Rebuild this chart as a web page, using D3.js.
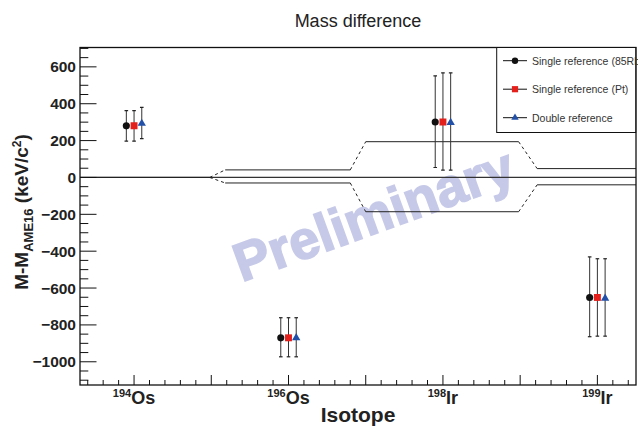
<!DOCTYPE html>
<html>
<head>
<meta charset="utf-8">
<script src="https://cdn.jsdelivr.net/npm/d3@7"></script>
<style>
  body { margin: 0; background: #fff; }
  text { font-family: "Liberation Sans", Arial, Helvetica, sans-serif; }
</style>
</head>
<body>
<div id="chart"></div>
<script>
// isotopes (category positions 0..3)
var massNumbers = ["194", "196", "198", "199"];
var elements = ["Os", "Os", "Ir", "Ir"];

// Single reference (85Rb)
var rbValue = [280, -870, 301, -651];
var rbLow = [197, -973, 54, -864];
var rbHigh = [363, -761, 551, -431];
// Single reference (Pt)
var ptValue = [280, -870, 301, -651];
var ptLow = [197, -973, 40, -861];
var ptHigh = [363, -761, 567, -441];
// Double reference
var dblValue = [293, -870, 298, -656];
var dblLow = [211, -973, 40, -861];
var dblHigh = [380, -761, 567, -441];

// AME16 uncertainty band (step segments)
var bandStart = [-0.35, 0.59, 1.50, 2.61];
var bandEnd = [0.49, 1.40, 2.49, 3.25];
var bandUpper = [0, 41, 194, 48];
var bandLower = [0, -30, -186, -40];

var yTicks = [600, 400, 200, 0, -200, -400, -600, -800, -1000];
var legendLabels = ["Single reference (85Rb", "Single reference (Pt)", "Double reference"];

var width = 638, height = 427;
var margin = { top: 47.5, right: 2, bottom: 42, left: 80 };

var svg = d3.select("#chart").append("svg")
    .attr("width", width)
    .attr("height", height);

var x = d3.scaleLinear().domain([-0.35, 3.25]).range([margin.left, width - margin.right]);
var y = d3.scaleLinear().domain([-1126, 705]).range([height - margin.bottom, margin.top]);

svg.append("defs").append("clipPath").attr("id", "frame")
    .append("rect")
    .attr("x", x(-0.35)).attr("y", y(705))
    .attr("width", x(3.25) - x(-0.35)).attr("height", y(-1126) - y(705));

// watermark
svg.append("text")
    .attr("transform", "translate(" + 380 + "," + 232 + ") rotate(-20)")
    .attr("text-anchor", "middle")
    .attr("font-size", 54)
    .attr("font-weight", "bold")
    .attr("fill", "#c6c9e8")
    .attr("stroke", "#c6c9e8")
    .attr("stroke-width", 1.6)
    .text("Preliminary");

var plot = svg.append("g").attr("clip-path", "url(#frame)");

// zero line
plot.append("line")
    .attr("x1", x(-0.35)).attr("x2", x(3.25))
    .attr("y1", y(0)).attr("y2", y(0))
    .attr("stroke", "#333").attr("stroke-width", 1.2);

// band: solid steps + dashed joins
[bandUpper, bandLower].forEach(function (vals) {
    for (let i = 0; i < vals.length; i++) {
        plot.append("line")
            .attr("x1", x(bandStart[i])).attr("x2", x(bandEnd[i]))
            .attr("y1", y(vals[i])).attr("y2", y(vals[i]))
            .attr("stroke", "#222").attr("stroke-width", 1);
        if (i < vals.length - 1) {
            plot.append("line")
                .attr("x1", x(bandEnd[i])).attr("x2", x(bandStart[i + 1]))
                .attr("y1", y(vals[i])).attr("y2", y(vals[i + 1]))
                .attr("stroke", "#222").attr("stroke-width", 1)
                .attr("stroke-dasharray", "3,3");
        }
    }
});

// series
var series = [
    { value: rbValue, low: rbLow, high: rbHigh, offset: -0.05, shape: d3.symbolCircle, color: "#111", size: 40 },
    { value: ptValue, low: ptLow, high: ptHigh, offset: 0, shape: d3.symbolSquare, color: "#e3201b", size: 48 },
    { value: dblValue, low: dblLow, high: dblHigh, offset: 0.05, shape: d3.symbolTriangle, color: "#2250a8", size: 30 }
];

series.forEach(function (s) {
    for (let i = 0; i < s.value.length; i++) {
        var cx = x(i + s.offset);
        plot.append("line")
            .attr("x1", cx).attr("x2", cx)
            .attr("y1", y(s.low[i])).attr("y2", y(s.high[i]))
            .attr("stroke", "#333").attr("stroke-width", 1);
        [s.low[i], s.high[i]].forEach(function (v) {
            plot.append("line")
                .attr("x1", cx - 1.8).attr("x2", cx + 1.8)
                .attr("y1", y(v)).attr("y2", y(v))
                .attr("stroke", "#222").attr("stroke-width", 1.2);
        });
        plot.append("path")
            .attr("d", d3.symbol().type(s.shape).size(s.size))
            .attr("transform", "translate(" + cx + "," + y(s.value[i]) + ")")
            .attr("fill", s.color);
    }
});

// frame
svg.append("rect")
    .attr("x", x(-0.35)).attr("y", y(705))
    .attr("width", x(3.25) - x(-0.35)).attr("height", y(-1126) - y(705))
    .attr("fill", "none").attr("stroke", "#111").attr("stroke-width", 1.3);

// y axis ticks
var yMinor = d3.range(-1100, 701, 50);
var yAxisG = svg.append("g");
yMinor.forEach(function (v) {
    var major = v % 200 === 0;
    yAxisG.append("line")
        .attr("x1", x(-0.35)).attr("x2", x(-0.35) + (major ? 16.5 : 8.3))
        .attr("y1", y(v)).attr("y2", y(v))
        .attr("stroke", "#111").attr("stroke-width", 1);
});
yTicks.forEach(function (v) {
    yAxisG.append("text")
        .attr("x", x(-0.35) - 4)
        .attr("y", y(v) + 5.5)
        .attr("text-anchor", "end")
        .attr("font-size", 15.5)
        .attr("font-weight", "bold")
        .attr("fill", "#222")
        .text(d3.format("d")(v).replace("-", "\u2212"));
});

// x axis ticks
var xMinor = d3.range(-3, 33).map(function (d) { return d / 10; });
var xAxisG = svg.append("g");
xMinor.forEach(function (v) {
    var major = Math.abs(v * 2 - Math.round(v * 2)) < 1e-6;
    xAxisG.append("line")
        .attr("x1", x(v)).attr("x2", x(v))
        .attr("y1", y(-1126)).attr("y2", y(-1126) - (major ? 10 : 5))
        .attr("stroke", "#111").attr("stroke-width", 1);
});
massNumbers.forEach(function (m, i) {
    var t = xAxisG.append("text")
        .attr("x", x(i))
        .attr("y", 404)
        .attr("text-anchor", "middle")
        .attr("font-weight", "bold")
        .attr("fill", "#222");
    t.append("tspan").attr("font-size", 11).attr("dy", -7).text(m);
    t.append("tspan").attr("font-size", 18).attr("dy", 7).text(elements[i]);
});

// axis titles
svg.append("text")
    .attr("x", (x(-0.35) + x(3.25)) / 2)
    .attr("y", 421.5)
    .attr("text-anchor", "middle")
    .attr("font-size", 21)
    .attr("font-weight", "bold")
    .attr("fill", "#222")
    .text("Isotope");

var yl = svg.append("text")
    .attr("transform", "translate(28," + 212 + ") rotate(-90)")
    .attr("text-anchor", "middle")
    .attr("font-size", 19)
    .attr("font-weight", "bold")
    .attr("fill", "#222");
yl.append("tspan").text("M-M");
yl.append("tspan").attr("font-size", 13).attr("dy", 5).text("AME16");
yl.append("tspan").attr("dy", -5).text(" (keV/c");
yl.append("tspan").attr("font-size", 12).attr("dy", -7).text("2");
yl.append("tspan").attr("dy", 7).text(")");

// title
svg.append("text")
    .attr("x", (x(-0.35) + x(3.25)) / 2)
    .attr("y", 26.5)
    .attr("text-anchor", "middle")
    .attr("font-size", 18)
    .attr("fill", "#222")
    .text("Mass difference");

// legend
var lg = svg.append("g");
lg.append("rect")
    .attr("x", 496.7).attr("y", y(705))
    .attr("width", 139).attr("height", 85)
    .attr("fill", "#fff").attr("stroke", "#111").attr("stroke-width", 1);
legendLabels.forEach(function (label, i) {
    var ly = 60.7 + i * 28.5;
    lg.append("line")
        .attr("x1", 503).attr("x2", 527)
        .attr("y1", ly).attr("y2", ly)
        .attr("stroke", "#111").attr("stroke-width", 1);
    lg.append("path")
        .attr("d", d3.symbol().type(series[i].shape).size(series[i].size * 0.8))
        .attr("transform", "translate(515," + ly + ")")
        .attr("fill", series[i].color);
    lg.append("text")
        .attr("x", 532)
        .attr("y", ly + 3.8)
        .attr("font-size", 10.5)
        .attr("fill", "#333")
        .text(label);
});
</script>
</body>
</html>
